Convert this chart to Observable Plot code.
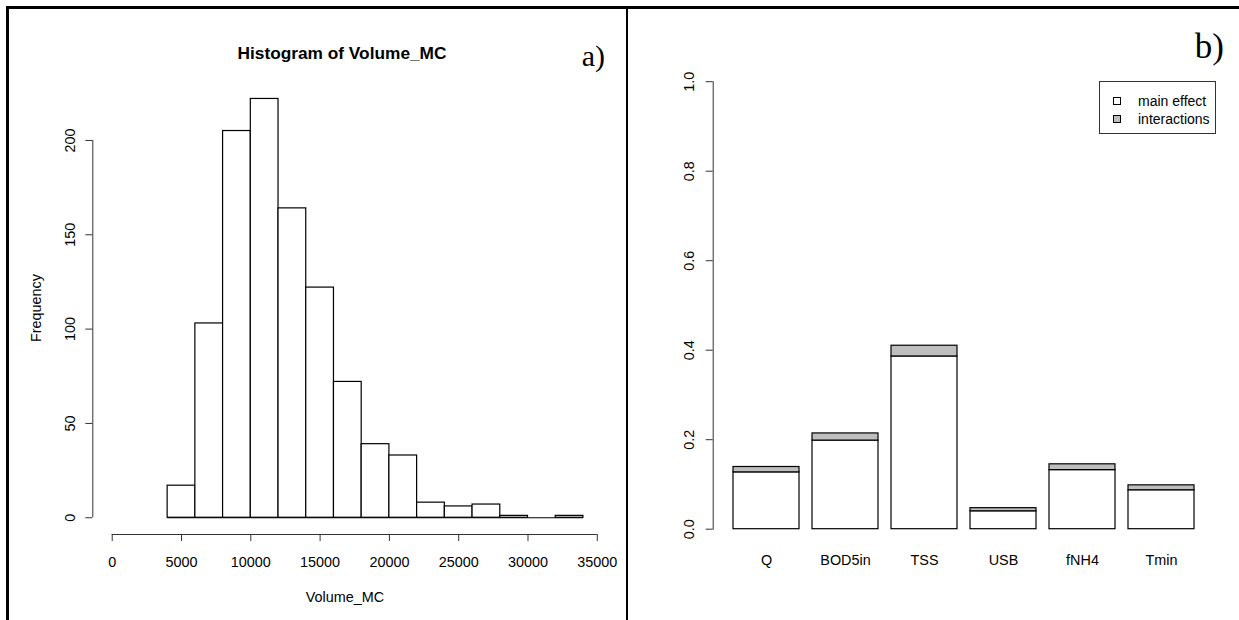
<!DOCTYPE html>
<html>
<head>
<meta charset="utf-8">
<script src="https://cdn.jsdelivr.net/npm/d3@7"></script>
<script src="https://cdn.jsdelivr.net/npm/@observablehq/plot@0.6"></script>
<style>
  html, body { margin: 0; padding: 0; background: #fff; }
  #page { position: relative; width: 1239px; height: 620px; overflow: hidden;
          font-family: "Liberation Sans", Arial, Helvetica, sans-serif; color: #000; }
  .line { position: absolute; background: #000; }
  .serif { font-family: "Liberation Serif", "Times New Roman", serif; line-height: 1; white-space: nowrap; }
  .lbl { white-space: nowrap; line-height: 1; }
  #legend { position: absolute; left: 1099px; top: 81px; width: 115px; height: 51px;
            border: 1px solid #333; background: #fff; font-size: 14px; }
  .key { position: absolute; left: 13px; width: 6px; height: 6px; border: 1px solid #000; }
  .ktext { position: absolute; left: 38px; line-height: 1; white-space: nowrap; }
</style>
</head>
<body>
<div id="page"></div>
<script>
// ---------- data: panel a) histogram ----------
const histBreaks = [4000, 6000, 8000, 10000, 12000, 14000, 16000, 18000, 20000, 22000, 24000, 26000, 28000, 30000, 32000, 34000];
const histCounts = [17, 103, 205, 222, 164, 122, 72, 39, 33, 8, 6, 7, 1, 0, 1];
const histXTicks = [0, 5000, 10000, 15000, 20000, 25000, 30000, 35000];
const histYTicks = [0, 50, 100, 150, 200];
const histTitle = "Histogram of Volume_MC";
const histXLabel = "Volume_MC";
const histYLabel = "Frequency";

// ---------- data: panel b) sensitivity indices ----------
const variables = ["Q", "BOD5in", "TSS", "USB", "fNH4", "Tmin"];
const mainEffect = [0.127, 0.198, 0.386, 0.040, 0.132, 0.087];
const interactions = [0.012, 0.016, 0.024, 0.007, 0.013, 0.011];
const sensYTicks = [0, 0.2, 0.4, 0.6, 0.8, 1.0];
const seriesNames = ["main effect", "interactions"];
const seriesColors = ["#ffffff", "#bebebe"];

const panelLabels = ["a)", "b)"];

const page = document.getElementById("page");
const font = '"Liberation Sans", Arial, Helvetica, sans-serif';

// ---------- panel a ----------
const bins = histCounts.map((c, i) => ({x1: histBreaks[i], x2: histBreaks[i + 1], count: c}));
const xPad = 0.04 * (histXTicks[histXTicks.length - 1] - histXTicks[0]);
const xDomain = [histXTicks[0] - xPad, histXTicks[histXTicks.length - 1] + xPad];
const yMax = d3.max(histCounts);
const yDomain = [-0.04 * yMax, yMax * 1.04];

const histPlot = Plot.plot({
  width: 627, height: 620,
  marginLeft: 92.3, marginRight: 627 - 616.2, marginTop: 81.7, marginBottom: 620 - 534,
  x: {domain: xDomain},
  y: {domain: yDomain},
  style: {fontFamily: font, fontSize: "14.4px", background: "transparent", color: "#000", overflow: "visible"},
  marks: [
    Plot.rectY(bins, {x1: "x1", x2: "x2", y: "count", fill: "white", stroke: "#000", strokeWidth: 1.2}),
    Plot.ruleY([0], {x1: histBreaks[0], x2: histBreaks[histBreaks.length - 1], stroke: "#000", strokeWidth: 1.2}),
    // y axis (R style, detached)
    Plot.ruleX([xDomain[0]], {y1: histYTicks[0], y2: histYTicks[histYTicks.length - 1], stroke: "#333", strokeWidth: 1}),
    Plot.axisY(histYTicks, {anchor: "left", tickSize: 7, tickFormat: () => "", label: null, stroke: "#333"}),
    Plot.text(histYTicks, {y: d => d, text: d => String(d), frameAnchor: "left", dx: -22.3, rotate: -90,
                           textAnchor: "middle", lineAnchor: "middle", fill: "#000"}),
    // x axis (R style, detached)
    Plot.ruleY([yDomain[0]], {x1: histXTicks[0], x2: histXTicks[histXTicks.length - 1], stroke: "#333", strokeWidth: 1}),
    Plot.axisX(histXTicks, {anchor: "bottom", tickSize: 7, tickFormat: () => "", label: null, stroke: "#333"}),
    Plot.text(histXTicks, {x: d => d, text: d => String(d), frameAnchor: "bottom", dy: 27.5,
                           lineAnchor: "middle", fill: "#000"})
  ]
});
histPlot.style.position = "absolute";
histPlot.style.left = "0px";
histPlot.style.top = "0px";
page.appendChild(histPlot);

// ---------- panel b ----------
const rows = [];
variables.forEach((v, i) => {
  rows.push({variable: v, part: seriesNames[0], value: mainEffect[i]});
  rows.push({variable: v, part: seriesNames[1], value: interactions[i]});
});

const sensPlot = Plot.plot({
  width: 612, height: 620,
  marginLeft: 712.7 - 627, marginRight: 1239 - 1214.5, marginTop: 81.2, marginBottom: 620 - 528.7,
  x: {type: "band", domain: variables, paddingInner: 0.2 / 1.2, paddingOuter: 0.28 / 1.2, axis: null},
  y: {domain: [sensYTicks[0], sensYTicks[sensYTicks.length - 1]]},
  color: {domain: seriesNames, range: seriesColors},
  style: {fontFamily: font, fontSize: "14.4px", background: "transparent", color: "#000", overflow: "visible"},
  marks: [
    Plot.barY(rows, {x: "variable", y: "value", fill: "part", stroke: "#000", strokeWidth: 1.2}),
    Plot.frame({anchor: "left", stroke: "#333", strokeWidth: 1}),
    Plot.axisY(sensYTicks, {anchor: "left", tickSize: 7, tickFormat: () => "", label: null, stroke: "#333"}),
    Plot.text(sensYTicks, {y: d => d, text: d => d3.format(".1f")(d), frameAnchor: "left", dx: -23.5, rotate: -90,
                           textAnchor: "middle", lineAnchor: "middle", fill: "#000"}),
    Plot.text(variables, {x: d => d, text: d => d, frameAnchor: "bottom", dy: 31.3, lineAnchor: "middle", fill: "#000"})
  ]
});
sensPlot.style.position = "absolute";
sensPlot.style.left = "627px";
sensPlot.style.top = "0px";
page.appendChild(sensPlot);

// ---------- texts ----------
function addText(txt, cls, css) {
  const d = document.createElement("div");
  d.className = cls;
  d.textContent = txt;
  Object.assign(d.style, {position: "absolute"}, css);
  page.appendChild(d);
  return d;
}
addText(histTitle, "lbl", {left: "342px", top: "45px", transform: "translateX(-50%)", fontSize: "17.3px", fontWeight: "bold"});
addText(histXLabel, "lbl", {left: "345px", top: "590px", transform: "translateX(-50%)", fontSize: "14.4px"});
addText(histYLabel, "lbl", {left: "36px", top: "308px", transform: "translate(-50%,-50%) rotate(-90deg)", fontSize: "14.4px"});
addText(panelLabels[0], "serif", {right: (1239 - 605) + "px", top: "41px", fontSize: "30px"});
addText(panelLabels[1], "serif", {right: (1239 - 1224) + "px", top: "29px", fontSize: "35px"});

// ---------- legend ----------
const legend = document.createElement("div");
legend.id = "legend";
seriesNames.forEach((name, i) => {
  const k = document.createElement("div");
  k.className = "key";
  k.style.top = (15 + i * 18) + "px";
  k.style.background = seriesColors[i];
  legend.appendChild(k);
  const t = document.createElement("div");
  t.className = "ktext";
  t.style.top = (12 + i * 18) + "px";
  t.textContent = name;
  legend.appendChild(t);
});
page.appendChild(legend);

// ---------- panel borders ----------
[
  {left: "6px", top: "6px", width: "1233px", height: "3px"},
  {left: "6px", top: "6px", width: "3px", height: "614px"},
  {left: "626px", top: "6px", width: "2px", height: "614px"}
].forEach(css => {
  const l = document.createElement("div");
  l.className = "line";
  Object.assign(l.style, css);
  page.appendChild(l);
});
</script>
</body>
</html>
